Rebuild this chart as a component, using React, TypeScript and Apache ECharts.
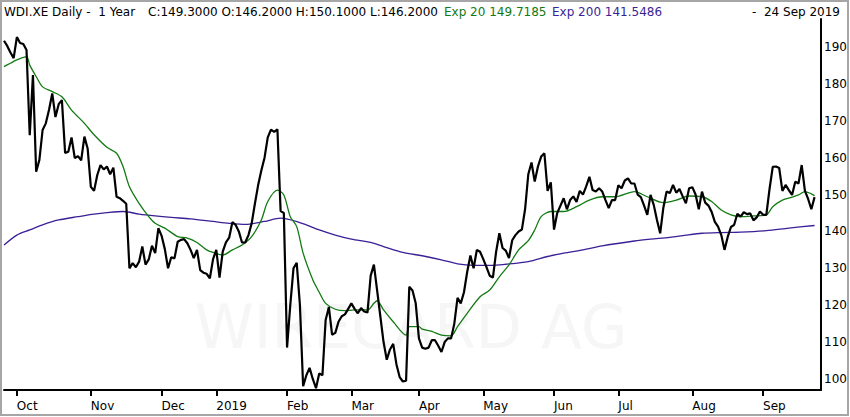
import React, { useEffect, useRef } from "react";
import * as echarts from "echarts";

// ---- categories: Xetra trading days (two padding days after the last close) ----
const firstDay = "2018-09-25";
const lastDay = "2019-09-26";
const holidays = [
  "2018-12-24", "2018-12-25", "2018-12-26", "2018-12-31",
  "2019-01-01", "2019-04-19", "2019-04-22", "2019-05-01",
];
// tick labels by month (January shows the year)
const monthTickLabels = ["2019", "Feb", "Mar", "Apr", "May", "Jun", "Jul", "Aug", "Sep", "Oct", "Nov", "Dec"];
const yTickLabels = [100, 110, 120, 130, 140, 150, 160, 170, 180, 190];

// ---- daily close ----
const close = [
  191.7, 190.3, 188.5, 187.0, 192.7, 191.1, 190.8, 189.2, 166.1, 182.4,
  156.2, 159.4, 167.5, 169.3, 173.0, 177.4, 171.0, 174.5, 175.6, 161.3,
  161.6, 165.5, 159.9, 160.4, 159.3, 165.7, 162.5, 152.1, 151.0, 155.3,
  158.0, 156.8, 157.6, 155.5, 157.3, 149.4, 149.0, 148.3, 147.5, 130.0,
  131.4, 130.3, 131.8, 135.9, 131.0, 132.4, 136.1, 134.1, 140.9, 138.8,
  135.2, 130.0, 133.0, 132.7, 137.2, 137.7, 137.9, 136.8, 135.0, 132.8,
  135.0, 129.5, 128.8, 128.5, 127.3, 132.5, 135.0, 127.5, 134.5, 137.0,
  138.3, 142.5, 141.8, 140.0, 137.0, 137.0, 139.0, 142.2, 147.5, 152.5,
  156.5, 160.0, 165.5, 167.6, 167.0, 167.7, 145.5, 145.0, 108.5, 120.0,
  130.0, 131.5, 120.0, 98.0, 101.0, 103.0, 100.0, 97.5, 101.5, 101.0,
  116.0, 119.5, 112.0, 112.5, 115.5, 117.0, 117.5, 119.0, 120.5, 119.0,
  117.8, 119.2, 118.3, 118.0, 128.0, 131.0, 124.0, 117.0, 110.0, 105.2,
  108.0, 109.5, 104.0, 100.5, 99.3, 99.5, 125.0, 124.0, 120.5, 111.0,
  108.5, 108.2, 108.5, 110.5, 110.5, 109.0, 107.3, 110.0, 111.0, 111.0,
  115.0, 122.0, 120.5, 123.5, 129.0, 133.5, 130.0, 135.0, 134.5, 132.5,
  130.3, 128.0, 127.5, 134.5, 139.5, 135.5, 134.8, 132.8, 137.6, 139.0,
  140.0, 140.5, 146.0, 155.5, 158.7, 153.5, 157.6, 160.3, 161.2, 151.0,
  153.3, 140.5, 145.0, 147.0, 149.0, 146.0, 148.5, 149.5, 148.0, 151.0,
  150.0, 152.2, 154.8, 151.2, 150.8, 151.7, 150.8, 148.5, 146.3, 148.5,
  148.5, 152.5, 151.7, 153.8, 154.4, 153.0, 153.0, 150.0, 149.3, 147.0,
  144.5, 149.9, 147.2, 143.1, 139.5, 146.5, 150.8, 150.4, 152.6, 150.5,
  151.5, 149.5, 147.6, 151.7, 152.0, 150.0, 146.0, 150.8, 147.8, 147.0,
  145.3, 142.6, 141.3, 139.0, 135.0, 138.5, 141.2, 141.8, 144.8, 144.0,
  145.2, 144.7, 144.9, 143.0, 143.8, 145.4, 144.5, 144.5, 151.5, 157.5,
  157.6, 157.2, 151.0, 152.6, 151.2, 149.9, 153.5, 153.0, 158.0, 151.0,
  148.8, 146.0, 149.3,
];

// ---- EMA 20: [day index, value] ----
const ema20 = [
  [0, 184.7], [2, 185.6], [4, 186.5], [7, 187.4], [8, 185.1], [10, 182.0], [12, 179.2],
  [15, 177.9], [18, 176.5], [21, 172.9], [25, 169.3], [28, 166.2], [32, 162.8], [35, 161.2],
  [37, 157.6], [39, 152.1], [42, 147.6], [45, 144.0], [47, 142.2], [50, 140.9], [54, 138.6],
  [57, 138.2], [60, 137.0], [63, 135.0], [65, 134.3], [68, 133.6], [71, 135.0], [74, 136.3],
  [77, 138.6], [80, 143.1], [82, 148.1], [85, 151.2], [87, 149.9], [89, 144.0], [91, 141.3],
  [93, 134.1], [96, 126.9], [98, 123.5], [100, 120.5], [103, 118.9], [106, 118.5], [109, 118.7],
  [113, 118.7], [115, 120.5], [116, 121.2], [118, 118.7], [121, 115.5], [125, 111.9], [126, 114.2],
  [129, 114.2], [130, 113.5], [133, 112.9], [136, 111.9], [139, 111.7], [141, 114.2], [144, 117.8],
  [148, 122.3], [151, 124.1], [154, 127.7], [157, 130.9], [160, 135.0], [163, 137.5], [165, 140.4],
  [167, 144.0], [170, 145.4], [174, 145.4], [178, 146.7], [182, 148.5], [186, 149.4], [190, 149.4],
  [196, 150.8], [200, 149.4], [205, 147.8], [209, 148.5], [213, 149.6], [217, 149.4], [220, 148.1],
  [223, 145.8], [226, 144.5], [229, 144.0], [233, 144.2], [237, 144.5], [239, 146.7], [242, 148.5],
  [245, 149.3], [247, 149.9], [249, 150.8], [251, 150.2], [252, 149.7],
];

// ---- EMA 200: [day index, value] ----
const ema200 = [
  [0, 136.3], [4, 139.0], [8, 140.4], [12, 141.8], [17, 143.1], [23, 144.0], [28, 144.7],
  [32, 145.1], [37, 145.4], [42, 144.7], [47, 144.2], [52, 143.8], [58, 143.4], [65, 142.7],
  [70, 142.2], [75, 141.9], [81, 142.7], [86, 143.6], [92, 142.4], [98, 140.4], [103, 139.0],
  [108, 137.9], [114, 137.0], [118, 135.9], [124, 134.3], [130, 133.4], [136, 132.3], [141, 131.2],
  [146, 130.8], [151, 130.8], [156, 131.1], [163, 131.8], [169, 133.2], [174, 134.1], [180, 135.0],
  [186, 136.1], [196, 137.4], [201, 137.9], [207, 138.4], [212, 139.0], [217, 139.5], [223, 139.7],
  [229, 139.8], [237, 140.2], [244, 140.9], [252, 141.6],
];

const headerLeft = "WDI.XE Daily -  1 Year";
const headerOHLC = "C:149.3000 O:146.2000 H:150.1000 L:146.2000";
const headerEma20 = "Exp 20 149.7185";
const headerEma200 = "Exp 200 141.5486";
const headerDate = "-  24 Sep 2019";
const watermark = "WIRECARD AG";

const GREEN = "#137a13";
const PURPLE = "#3b1f96";
const FONT = "DejaVu Sans";

function buildDays(): string[] {
  const out: string[] = [];
  const [y0, m0, d0] = firstDay.split("-").map(Number);
  const [y1, m1, d1] = lastDay.split("-").map(Number);
  let t = Date.UTC(y0, m0 - 1, d0);
  const end = Date.UTC(y1, m1 - 1, d1);
  while (t <= end) {
    const d = new Date(t);
    const wd = d.getUTCDay();
    const s = d.toISOString().slice(0, 10);
    if (wd !== 0 && wd !== 6 && !holidays.includes(s)) out.push(s);
    t += 86400000;
  }
  return out;
}

export default function App() {
  const ref = useRef<HTMLDivElement>(null);
  useEffect(() => {
    if (!ref.current) return;
    const chart = echarts.init(ref.current, null, { renderer: "svg" });
    const days = buildDays();
    const isMonthStart = days.map((d, i) => i > 0 && d.slice(5, 7) !== days[i - 1].slice(5, 7));
    const monthLabel = (d: string) => monthTickLabels[Number(d.slice(5, 7)) - 1];

    chart.setOption({
      animation: false,
      backgroundColor: "#ffffff",
      grid: { left: 4, right: 29, top: 19, bottom: 27, containLabel: false },
      xAxis: {
        type: "category",
        data: days,
        boundaryGap: false,
        axisLine: { show: true, lineStyle: { color: "#000", width: 2 } },
        axisTick: {
          show: true,
          interval: (i: number) => isMonthStart[i],
          length: 6,
          lineStyle: { color: "#000", width: 2 },
        },
        axisLabel: {
          interval: (i: number) => isMonthStart[i],
          formatter: (v: string) => monthLabel(v),
          align: "left",
          margin: 10,
          color: "#000",
          fontFamily: FONT,
          fontSize: 12,
        },
        splitLine: { show: false },
      },
      yAxis: {
        type: "value",
        position: "right",
        min: 97,
        max: 197.6,
        interval: 1,
        axisLine: { show: true, lineStyle: { color: "#000", width: 2 } },
        axisTick: { show: false },
        splitLine: { show: false },
        axisLabel: {
          showMinLabel: true,
          showMaxLabel: false,
          margin: 3,
          color: "#000",
          fontFamily: FONT,
          fontSize: 12,
          formatter: (v: number) => (yTickLabels.indexOf(Math.round(v * 1000) / 1000) >= 0 ? String(v) : ""),
        },
      },
      graphic: [
        {
          type: "text",
          x: 411,
          y: 327,
          z: 0,
          silent: true,
          style: {
            text: watermark,
            fill: "#f6f6f6",
            font: `60px "${FONT}"`,
            textAlign: "center",
            textVerticalAlign: "middle",
          },
        },
        {
          type: "rect",
          z: 10,
          silent: true,
          shape: { x: 1, y: 1, width: 847, height: 414 },
          style: { fill: "none", stroke: "#a6a6a6", lineWidth: 2 },
        },
        {
          type: "text", x: 4, y: 12, z: 10,
          style: { text: headerLeft, fill: "#000", font: `12px "${FONT}"`, textVerticalAlign: "middle" },
        },
        {
          type: "text", x: 148, y: 12, z: 10,
          style: { text: headerOHLC, fill: "#000", font: `12px "${FONT}"`, textVerticalAlign: "middle" },
        },
        {
          type: "text", x: 444, y: 12, z: 10,
          style: { text: headerEma20, fill: GREEN, font: `12px "${FONT}"`, textVerticalAlign: "middle" },
        },
        {
          type: "text", x: 552, y: 12, z: 10,
          style: { text: headerEma200, fill: PURPLE, font: `12px "${FONT}"`, textVerticalAlign: "middle" },
        },
        {
          type: "text", x: 840, y: 12, z: 10,
          style: { text: headerDate, fill: "#000", font: `12px "${FONT}"`, textAlign: "right", textVerticalAlign: "middle" },
        },
      ],
      series: [
        {
          name: "EMA 200",
          type: "line",
          data: ema200,
          showSymbol: false,
          symbol: "none",
          smooth: 0.3,
          lineStyle: { color: PURPLE, width: 1.3 },
          z: 3,
        },
        {
          name: "EMA 20",
          type: "line",
          data: ema20,
          showSymbol: false,
          symbol: "none",
          smooth: 0.3,
          lineStyle: { color: GREEN, width: 1.3 },
          z: 4,
        },
        {
          name: "Close",
          type: "line",
          data: close,
          showSymbol: false,
          symbol: "none",
          lineStyle: { color: "#000", width: 2.2 },
          z: 5,
        },
      ],
    });
    return () => chart.dispose();
  }, []);
  return <div ref={ref} style={{ position: "fixed", left: 0, top: 0, width: 850, height: 417 }} />;
}
